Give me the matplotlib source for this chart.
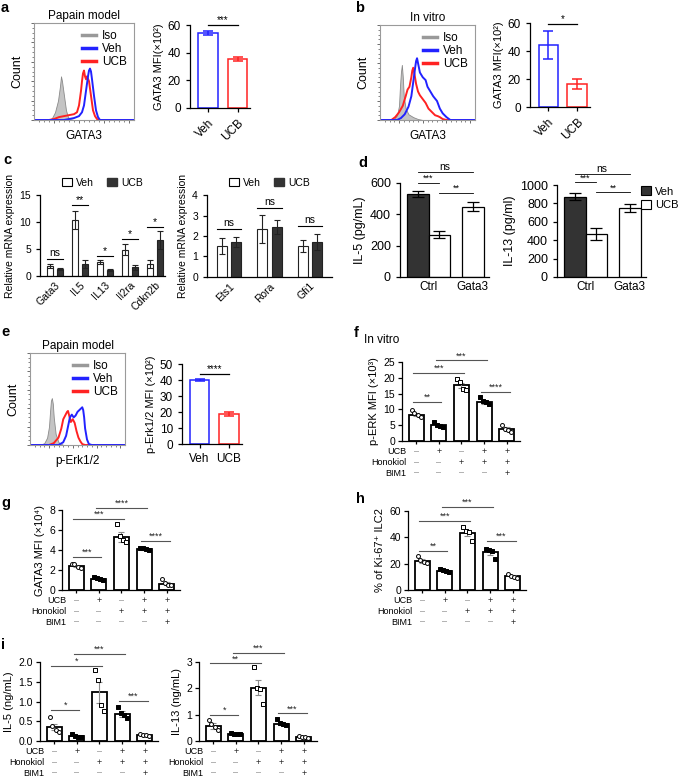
import numpy as np
import matplotlib.pyplot as plt
from matplotlib.lines import Line2D
from matplotlib.patches import Patch

plt.rcParams['font.family'] = ['Liberation Sans', 'DejaVu Sans']
plt.rcParams['axes.linewidth'] = 0.9
plt.rcParams['xtick.major.width'] = 0.9
plt.rcParams['ytick.major.width'] = 0.9
plt.rcParams['xtick.major.size'] = 3
plt.rcParams['ytick.major.size'] = 3

W, H = 685, 779

# ---------------- data ----------------
# flow histograms (x = fluorescence, y = % of axis height)
a_iso_x = [0, 10, 15, 18, 21, 24, 26, 27, 28, 30, 32, 34, 36, 40]
a_iso_y = [0, 0, 0, 2, 8, 20, 35, 45, 40, 25, 10, 3, 1, 0]
a_veh_x = [0, 30, 35, 40, 45, 48, 50, 52, 54, 55, 56, 57, 58, 60, 62, 64, 66, 70, 100]
a_veh_y = [0, 0, 1, 2, 4, 8, 15, 30, 45, 51, 53, 50, 42, 25, 10, 3, 0, 0, 0]
a_ucb_x = [0, 15, 20, 25, 30, 35, 40, 43, 45, 47, 48, 49, 50, 51, 52, 53, 55, 57, 59, 61, 63, 65, 100]
a_ucb_y = [0, 0, 1, 3, 4, 5, 6, 8, 15, 30, 40, 48, 51, 45, 42, 45, 40, 25, 10, 4, 1, 0, 0]

b_iso_x = [0, 10, 15, 18, 20, 21, 22, 23, 24, 25, 27, 30, 35, 40, 45]
b_iso_y = [0, 0, 1, 5, 15, 35, 50, 58, 45, 25, 12, 6, 3, 1, 0]
b_veh_x = [0, 18, 22, 26, 30, 33, 35, 37, 38, 39, 40, 42, 45, 48, 50, 53, 56, 60, 63, 66, 70, 74, 100]
b_veh_y = [0, 0, 2, 6, 14, 25, 40, 55, 62, 65, 60, 50, 45, 42, 35, 30, 25, 20, 12, 7, 3, 0, 0]
b_ucb_x = [0, 12, 16, 20, 24, 27, 29, 31, 33, 34, 35, 36, 38, 40, 42, 45, 48, 51, 55, 58, 61, 63, 66, 70, 100]
b_ucb_y = [0, 0, 3, 8, 15, 25, 32, 35, 45, 52, 55, 50, 38, 30, 26, 22, 18, 12, 8, 5, 4, 3, 1, 0, 0]

e_iso_x = [0, 10, 15, 18, 20, 21, 22, 23, 24, 25, 27, 30, 35]
e_iso_y = [0, 0, 2, 8, 20, 35, 48, 51, 45, 30, 12, 3, 0]
e_veh_x = [0, 30, 35, 38, 40, 42, 44, 46, 48, 50, 52, 54, 55, 56, 57, 58, 60, 62, 65, 100]
e_veh_y = [0, 0, 3, 10, 20, 30, 33, 30, 32, 36, 38, 40, 41, 38, 30, 18, 6, 1, 0, 0]
e_ucb_x = [0, 20, 25, 30, 33, 35, 37, 39, 40, 41, 43, 45, 47, 49, 51, 53, 55, 58, 100]
e_ucb_y = [0, 0, 2, 8, 18, 28, 32, 36, 37, 33, 25, 28, 24, 15, 8, 4, 1, 0, 0]

mfi_groups = ['Veh', 'UCB']
a_mfi = [54, 35.5]
a_err = [1.5, 1.2]
b_mfi = [44.5, 16.5]
b_err = [10, 3.5]
e_mfi = [40, 19]
e_err = [0.6, 1.3]

# c: relative mRNA
c1_genes = ['Gata3', 'IL5', 'IL13', 'Il2ra', 'Cdkn2b']
c1_veh = [1.8, 10.4, 2.6, 4.9, 2.2]
c1_veh_err = [0.35, 1.7, 0.4, 1.0, 0.8]
c1_ucb = [1.3, 2.2, 1.1, 1.6, 6.7]
c1_ucb_err = [0.25, 0.75, 0.2, 0.5, 1.7]
c1_sig = ['ns', '**', '*', '*', '*']
c1_sig_y = [3.2, 13.1, 3.75, 6.9, 9.0]
c2_genes = ['Ets1', 'Rora', 'Gfi1']
c2_veh = [1.5, 2.34, 1.5]
c2_veh_err = [0.4, 0.68, 0.3]
c2_ucb = [1.7, 2.44, 1.72]
c2_ucb_err = [0.25, 0.34, 0.38]
c2_sig = ['ns', 'ns', 'ns']
c2_sig_y = [2.35, 3.35, 2.5]

# d: cytokines
d_cond = ['Ctrl', 'Ctrl', 'Gata3']
d_treat = ['Veh', 'UCB', 'UCB']
d_il5 = [530, 270, 448]
d_il5_err = [20, 22, 28]
d_il13 = [875, 468, 752]
d_il13_err = [40, 62, 42]

# f-i: treatment rows
ucb_row = ['–', '+', '–', '+', '+']
hono_row = ['–', '–', '+', '+', '+']
bim_row = ['–', '–', '–', '–', '+']

f_mean = [8.3, 5.0, 17.6, 12.3, 3.8]
f_sem = [0.5, 0.4, 0.9, 0.5, 0.5]
f_pts = [[9.8, 8.9, 8.2, 7.6], [6.0, 5.1, 4.8, 4.4], [19.7, 18.8, 16.6, 16.0],
         [13.8, 12.6, 12.2, 11.7], [5.0, 3.8, 3.5, 3.0]]

g_mean = [2.4, 1.15, 5.3, 4.1, 0.65]
g_sem = [0.12, 0.05, 0.5, 0.06, 0.13]
g_pts = [[2.65, 2.6, 2.35, 2.2], [1.3, 1.2, 1.12, 1.05], [6.6, 5.4, 5.0, 4.8],
         [4.25, 4.2, 4.1, 4.0], [1.1, 0.7, 0.55, 0.5]]

h_mean = [22, 14.8, 43.5, 28.5, 10.5]
h_sem = [1.3, 0.5, 2.3, 2.0, 0.8]
h_pts = [[25.5, 22.5, 21.0, 20.5], [16, 15, 14.5, 14], [47.5, 45, 44, 37],
         [31, 30.5, 29.5, 23.5], [12.5, 11, 10, 9]]

i5_mean = [0.36, 0.12, 1.23, 0.69, 0.15]
i5_sem = [0.08, 0.02, 0.27, 0.07, 0.015]
i5_pts = [[0.6, 0.38, 0.28, 0.22], [0.18, 0.13, 0.1, 0.09], [1.8, 1.55, 0.9, 0.75],
          [0.85, 0.7, 0.65, 0.58], [0.18, 0.16, 0.15, 0.13]]

i13_mean = [0.57, 0.27, 2.02, 0.66, 0.15]
i13_sem = [0.1, 0.02, 0.28, 0.05, 0.02]
i13_pts = [[0.78, 0.63, 0.55, 0.4], [0.3, 0.28, 0.26, 0.25], [2.8, 2.02, 1.98, 1.42],
           [0.82, 0.68, 0.63, 0.6], [0.18, 0.16, 0.14, 0.12]]

f_sig = [(0, 1, 12.5, '**'), (0, 2, 21.5, '***'), (1, 3, 25.5, '***'), (3, 4, 15.5, '****')]
g_sig = [(0, 1, 3.3, '***'), (0, 2, 7.1, '***'), (1, 3, 8.2, '****'), (3, 4, 4.9, '****')]
h_sig = [(0, 1, 29.5, '**'), (0, 2, 52.5, '***'), (1, 3, 63, '***'), (3, 4, 37.5, '***')]
i5_sig = [(0, 1, 0.78, '*'), (0, 2, 1.9, '*'), (1, 3, 2.2, '***'), (3, 4, 1.02, '***')]
i13_sig = [(0, 1, 1.0, '*'), (0, 2, 2.95, '**'), (1, 3, 3.35, '***'), (3, 4, 1.05, '***')]

BLUE = '#2222ff'
RED = '#ff2222'

fig = plt.figure(figsize=(W / 100, H / 100), dpi=100)


def px_axes(l, t, r, b):
    return fig.add_axes([l / W, 1 - b / H, (r - l) / W, (b - t) / H])


def label(x, y, s):
    fig.text(x / W, 1 - y / H, s, fontsize=10.5, fontweight='bold', va='center', ha='left')


def flow_hist(ax, iso, veh, ucb, title, xlabel):
    ax.fill_between(iso[0], iso[1], color='#c4c4c4', edgecolor='#8a8a8a', lw=0.6)
    ax.plot(ucb[0], ucb[1], color=RED, lw=1.4)
    ax.plot(veh[0], veh[1], color=BLUE, lw=1.4)
    ax.set_xlim(0, 100)
    ax.set_ylim(0, 100)
    for s in ax.spines.values():
        s.set_color('#9a9a9a')
        s.set_linewidth(0.8)
    ax.set_yticks(np.arange(0, 101, 20))
    ax.set_yticks(np.arange(0, 101, 5), minor=True)
    ax.set_xticks([20, 45, 70, 95])
    ax.set_xticks(np.arange(5, 100, 5), minor=True)
    ax.tick_params(which='both', labelleft=False, labelbottom=False, color='#555555')
    ax.tick_params(which='major', length=2.5, width=0.6)
    ax.tick_params(which='minor', length=1.2, width=0.5)
    ax.set_title(title, fontsize=8.5, pad=3)
    ax.set_ylabel('Count', fontsize=9, labelpad=5)
    ax.set_xlabel(xlabel, fontsize=8.5, labelpad=5)
    handles = [Line2D([], [], color=c, lw=2.5) for c in ('#999999', BLUE, RED)]
    ax.legend(handles, ['Iso', 'Veh', 'UCB'], loc='upper right', frameon=False, fontsize=8.5,
              handlelength=1.2, handletextpad=0.5, labelspacing=0.1, borderaxespad=0.2)


def mfi_bars(ax, vals, errs, ylim, yticks, ylabel, sig, sig_y, rotate, xlim):
    cols = [BLUE, RED]
    x = np.arange(len(vals))
    ax.bar(x, vals, width=0.67, color='white', edgecolor=cols, linewidth=1.1)
    for xi, v, e, c in zip(x, vals, errs, cols):
        ax.errorbar(xi, v, yerr=e, color=c, capsize=3.5, elinewidth=1.1, capthick=1.1)
    ax.plot([0, 1], [sig_y, sig_y], color='black', lw=0.9, clip_on=False)
    ax.text(0.5, sig_y, sig, ha='center', va='bottom', fontsize=7)
    ax.set_ylim(*ylim)
    ax.set_xlim(*xlim)
    ax.set_yticks(yticks)
    ax.spines[['top', 'right']].set_visible(False)
    ax.tick_params(labelsize=8.5, length=3)
    ax.set_xticks(x)
    if rotate:
        ax.set_xticklabels(mfi_groups, rotation=45, ha='right', rotation_mode='anchor')
    else:
        ax.set_xticklabels(mfi_groups)
    ax.set_ylabel(ylabel, fontsize=8, labelpad=3)


def mrna(ax, genes, veh, veh_err, ucb, ucb_err, sig, sig_y, off, width, ylim, yticks, xlim):
    x = np.arange(len(genes))
    ek = dict(lw=0.8, capthick=0.8, ecolor='#222222')
    ax.bar(x - off, veh, width, color='white', edgecolor='#222222', lw=0.8,
           yerr=veh_err, capsize=2, error_kw=ek)
    ax.bar(x + off, ucb, width, color='#333333', edgecolor='#222222', lw=0.8,
           yerr=ucb_err, capsize=2, error_kw=ek)
    for xi, s, y in zip(x, sig, sig_y):
        ax.plot([xi - off - 0.12, xi + off + 0.12], [y, y], color='black', lw=0.8)
        ax.text(xi, y + (0.15 if s == 'ns' else -0.02) * (ylim[1] / 15 if ylim[1] > 5 else 0.3),
                s, ha='center', va='bottom', fontsize=7.5)
    ax.set_ylim(*ylim)
    ax.set_xlim(*xlim)
    ax.set_yticks(yticks)
    ax.set_xticks(x)
    ax.set_xticklabels(genes, rotation=45, ha='right', rotation_mode='anchor', fontsize=7.5)
    ax.spines[['top', 'right']].set_visible(False)
    ax.tick_params(axis='y', labelsize=7.5, length=3)
    ax.tick_params(axis='x', length=0, pad=3)
    ax.set_ylabel('Relative mRNA expression', fontsize=7.5, labelpad=3)
    handles = [Patch(facecolor='white', edgecolor='black', lw=0.8), Patch(facecolor='#333333', edgecolor='#333333')]
    ax.legend(handles, ['Veh', 'UCB'], ncol=2, loc='lower center', bbox_to_anchor=(0.5, 1.0),
              frameon=False, fontsize=7.5, handlelength=0.9, handleheight=0.9,
              columnspacing=1.3, handletextpad=0.4, borderaxespad=0.3)


def cytokine(ax, vals, errs, ylim, yticks, ylabel, sigs):
    pos = np.array([0, 1, 2.55])
    cols = ['#333333' if t == 'Veh' else 'white' for t in d_treat]
    ax.bar(pos, vals, width=1.0, color=cols, edgecolor='black', lw=0.9)
    ax.errorbar(pos, vals, yerr=errs, fmt='none', ecolor='black', capsize=4.5, elinewidth=0.9, capthick=0.9)
    for i, j, y, s in sigs:
        ax.plot([pos[i], pos[j]], [y, y], color='black', lw=0.6, clip_on=False)
        ax.text((pos[i] + pos[j]) / 2, y, s, ha='center', va='bottom', fontsize=6.5 if s != 'ns' else 7.5)
    ax.set_ylim(*ylim)
    ax.set_xlim(-0.82, 3.3)
    ax.set_yticks(yticks)
    ax.set_xticks([0.5, pos[2]], [d_cond[0], d_cond[2]])
    ax.spines[['top', 'right']].set_visible(False)
    ax.tick_params(axis='y', labelsize=9, length=3)
    ax.tick_params(axis='x', labelsize=8.5, length=0, pad=3)
    ax.set_ylabel(ylabel, fontsize=9, labelpad=3)


def dot_bars(ax, means, sems, pts, ylim, yticks, ylabel, sigs, fmt=None):
    x = np.arange(len(means))
    ax.bar(x, means, width=0.66, color='white', edgecolor='black', lw=1.3, zorder=1)
    ax.errorbar(x, means, yerr=sems, fmt='none', ecolor='#8c8c8c', elinewidth=0.8,
                capsize=2.5, capthick=0.8, zorder=3)
    styles = [('o', 'white'), ('s', 'black'), ('s', 'white'), ('s', 'black'), ('o', 'white')]
    jit = np.array([-0.2, -0.07, 0.07, 0.2])
    for xi, p, (m, fc) in zip(x, pts, styles):
        ax.scatter(xi + jit, p, marker=m, s=8, facecolor=fc, edgecolor='black', lw=0.7, zorder=4)
    for i, j, y, s in sigs:
        ax.plot([i - 0.12, j + 0.12], [y, y], color='#555555', lw=0.8, clip_on=False)
        ax.text((i + j) / 2, y, s, ha='center', va='bottom', fontsize=6.5, color='#222222')
    ax.set_ylim(*ylim)
    ax.set_xlim(-0.62, 4.58)
    ax.set_yticks(yticks)
    if fmt:
        ax.set_yticklabels([fmt % t for t in yticks])
    ax.set_xticks(x)
    ax.set_xticklabels([])
    ax.spines[['top', 'right']].set_visible(False)
    ax.tick_params(axis='y', labelsize=7.5, length=3, pad=2)
    ax.tick_params(axis='x', length=2.5)
    ax.set_ylabel(ylabel, fontsize=8, labelpad=3)
    for k, (name, row) in enumerate([('UCB', ucb_row), ('Honokiol', hono_row), ('BIM1', bim_row)]):
        off = -7.5 - 7.8 * k
        ax.annotate(name, (-0.42, 0), xycoords=('data', 'axes fraction'), xytext=(0, off),
                    textcoords='offset points', ha='right', va='center', fontsize=6.5)
        for xi, sgn in zip(x, row):
            ax.annotate(sgn, (xi, 0), xycoords=('data', 'axes fraction'), xytext=(0, off),
                        textcoords='offset points', ha='center', va='center', fontsize=6.5,
                        color='#222222' if sgn == '+' else '#888888')


# ---------------- panel a ----------------
label(1, 8, 'a')
ax = px_axes(34, 23, 134, 120)
flow_hist(ax, (a_iso_x, a_iso_y), (a_veh_x, a_veh_y), (a_ucb_x, a_ucb_y), 'Papain model', 'GATA3')
ax = px_axes(190, 25, 250, 108)
mfi_bars(ax, a_mfi, a_err, (0, 60), [0, 20, 40, 60], 'GATA3 MFI(×10²)', '***', 60, True, (-0.61, 1.42))

# ---------------- panel b ----------------
label(355, 8, 'b')
ax = px_axes(380, 25, 475, 120)
flow_hist(ax, (b_iso_x, b_iso_y), (b_veh_x, b_veh_y), (b_ucb_x, b_ucb_y), 'In vitro', 'GATA3')
ax = px_axes(530, 23, 590, 107)
mfi_bars(ax, b_mfi, b_err, (0, 60), [0, 20, 40, 60], 'GATA3 MFI(×10²)', '*', 59, True, (-0.64, 1.45))

# ---------------- panel c ----------------
label(3, 160, 'c')
ax = px_axes(40, 195, 165, 276)
mrna(ax, c1_genes, c1_veh, c1_veh_err, c1_ucb, c1_ucb_err, c1_sig, c1_sig_y,
     0.19, 0.25, (0, 15), [0, 5, 10, 15], (-0.6, 4.4))
ax = px_axes(207, 195, 332, 277)
mrna(ax, c2_genes, c2_veh, c2_veh_err, c2_ucb, c2_ucb_err, c2_sig, c2_sig_y,
     0.18, 0.25, (0, 4), [0, 1, 2, 3, 4], (-0.55, 2.55))

# ---------------- panel d ----------------
label(358, 163, 'd')
ax = px_axes(400, 183, 489, 277)
cytokine(ax, d_il5, d_il5_err, (0, 600), [0, 200, 400, 600], 'IL-5 (pg/mL)',
         [(0, 1, 600, '***'), (1, 2, 536, '**'), (0, 2, 670, 'ns')])
ax = px_axes(557, 185, 646, 277)
cytokine(ax, d_il13, d_il13_err, (0, 1000), [0, 200, 400, 600, 800, 1000], 'IL-13 (pg/ml)',
         [(0, 1, 1030, '***'), (1, 2, 920, '**'), (0, 2, 1120, 'ns')])
fig.legend([Patch(facecolor='#333333', edgecolor='black', lw=0.8), Patch(facecolor='white', edgecolor='black', lw=0.8)],
           ['Veh', 'UCB'], loc='upper left', bbox_to_anchor=(639 / W, 1 - 184 / H), frameon=False,
           fontsize=8, handlelength=0.9, handleheight=0.9, handletextpad=0.35, labelspacing=0.3,
           borderaxespad=0, borderpad=0.2)

# ---------------- panel e ----------------
label(1, 332, 'e')
ax = px_axes(30, 353, 125, 445)
flow_hist(ax, (e_iso_x, e_iso_y), (e_veh_x, e_veh_y), (e_ucb_x, e_ucb_y), 'Papain model', 'p-Erk1/2')
ax = px_axes(182, 364, 242, 444)
mfi_bars(ax, e_mfi, e_err, (0, 50), [0, 10, 20, 30, 40, 50], 'p-Erk1/2 MFI (×10²)', '****', 44, False, (-0.6, 1.45))

# ---------------- panel f ----------------
label(354, 333, 'f')
fig.text(364 / W, 1 - 340 / H, 'In vitro', fontsize=8.5, va='center')
ax = px_axes(402, 362, 520, 441)
dot_bars(ax, f_mean, f_sem, f_pts, (0, 25), [0, 5, 10, 15, 20, 25], 'p-ERK MFI (×10³)', f_sig)

# ---------------- panel g ----------------
label(1, 503, 'g')
ax = px_axes(62, 510, 180, 590)
dot_bars(ax, g_mean, g_sem, g_pts, (0, 8), [0, 2, 4, 6, 8], 'GATA3 MFI (×10⁴)', g_sig)

# ---------------- panel h ----------------
label(356, 499, 'h')
ax = px_axes(408, 511, 526, 590)
dot_bars(ax, h_mean, h_sem, h_pts, (0, 60), [0, 20, 40, 60], '% of Ki-67⁺ ILC2', h_sig)

# ---------------- panel i ----------------
label(1, 645, 'i')
ax = px_axes(40, 662, 158, 741)
dot_bars(ax, i5_mean, i5_sem, i5_pts, (0, 2), [0, 0.5, 1.0, 1.5, 2.0], 'IL-5 (ng/mL)', i5_sig, fmt='%.1f')
ax = px_axes(199, 662, 317, 741)
dot_bars(ax, i13_mean, i13_sem, i13_pts, (0, 3), [0, 1, 2, 3], 'IL-13 (ng/mL)', i13_sig)

fig.savefig('out.png', dpi=100)
